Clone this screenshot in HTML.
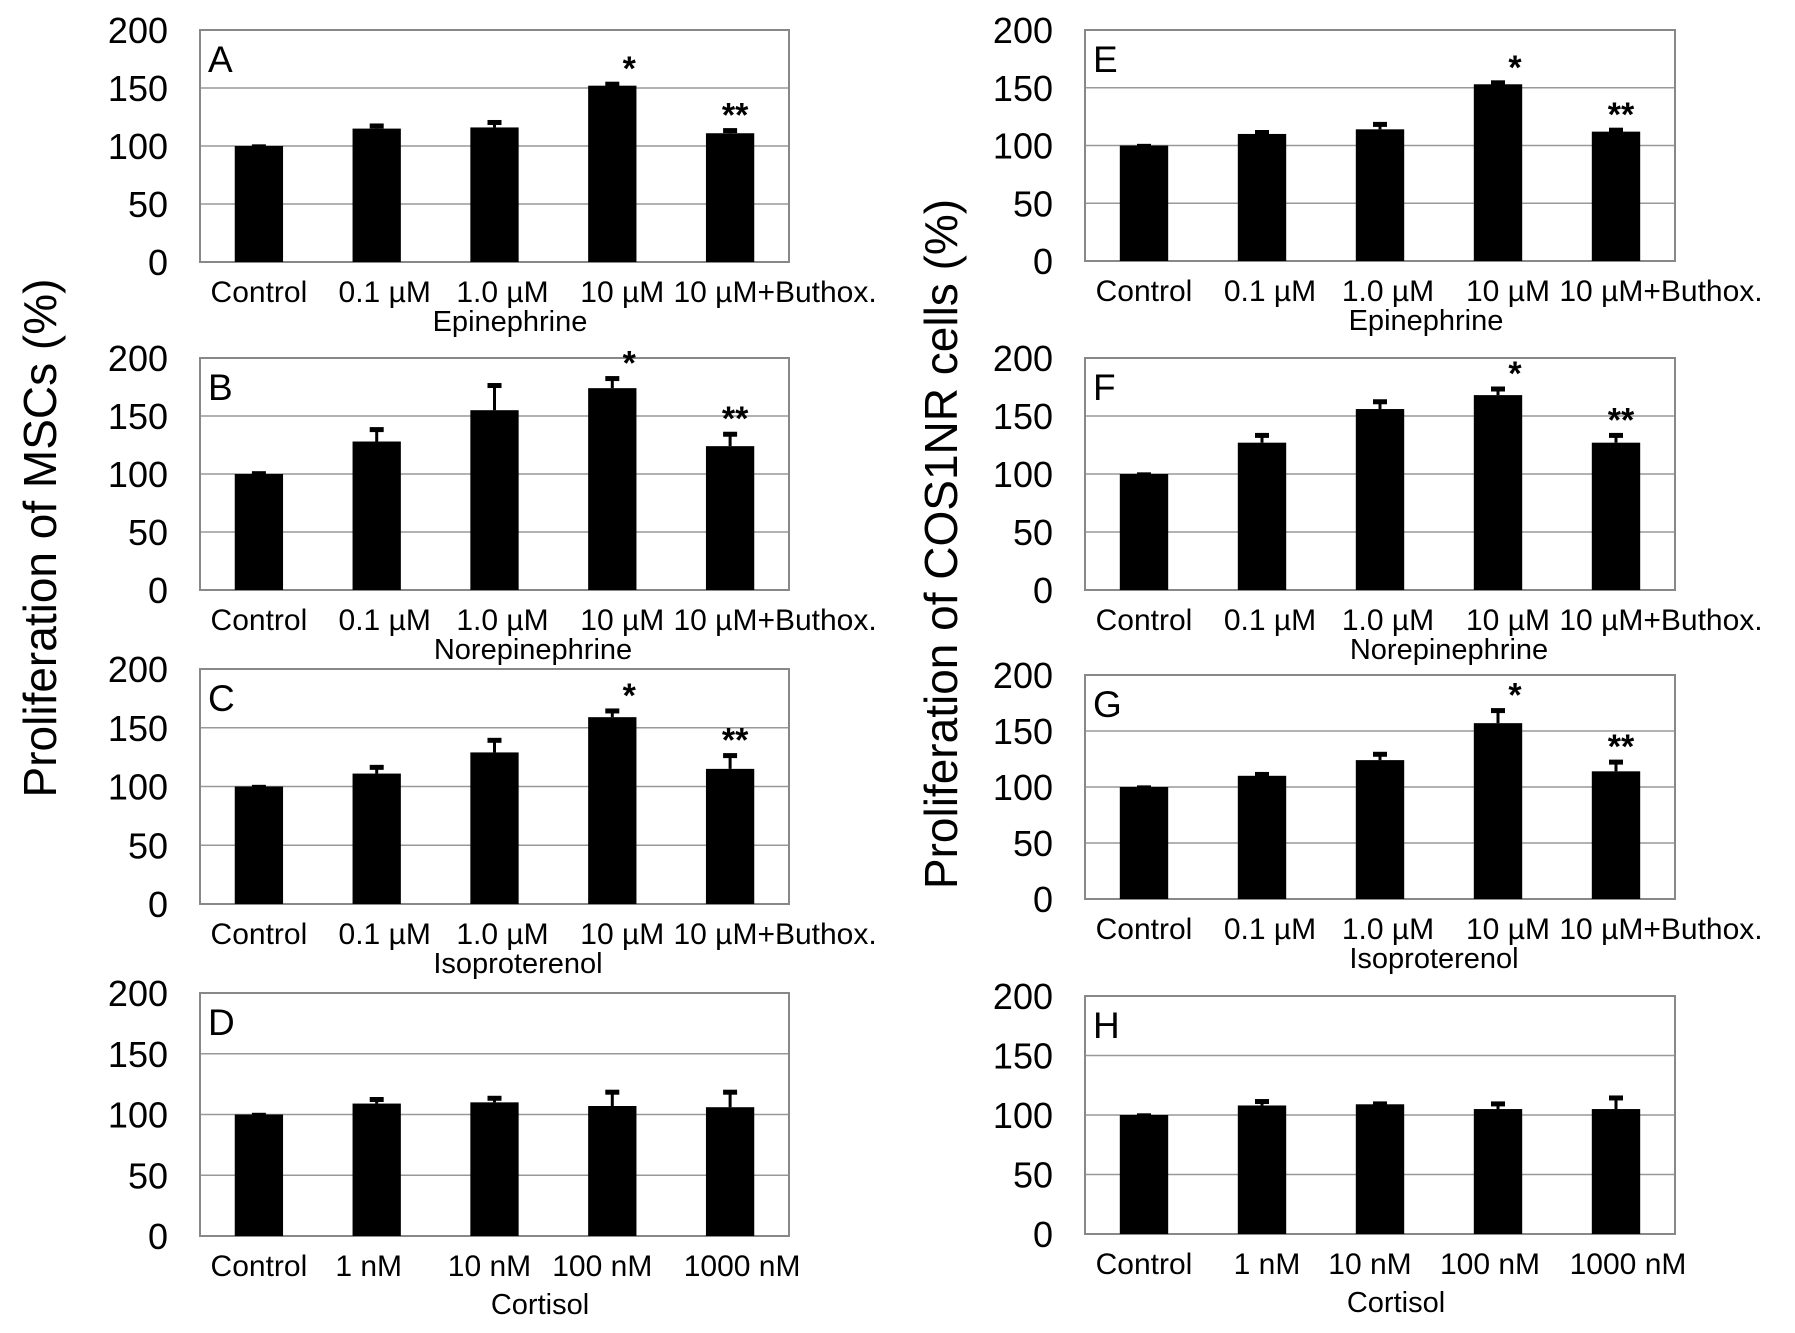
<!DOCTYPE html>
<html><head><meta charset="utf-8"><style>
html,body{margin:0;padding:0;background:#fff;}
svg{display:block;font-family:"Liberation Sans",Arial,sans-serif;}
</style></head><body>
<svg id="fig" width="1795" height="1333" viewBox="0 0 1795 1333" xmlns="http://www.w3.org/2000/svg">
<text transform="translate(56,538) rotate(-90)" text-anchor="middle" font-size="46">Proliferation of MSCs (%)</text>
<text transform="translate(957,544) rotate(-90)" text-anchor="middle" font-size="46">Proliferation of COS1NR cells (%)</text>
</svg>
<script>
const yTicks = [0, 50, 100, 150, 200];
const catsAdr = ["Control", "0.1 µM", "1.0 µM", "10 µM", "10 µM+Buthox."];
const catsCort = ["Control", "1 nM", "10 nM", "100 nM", "1000 nM"];
const valA = [100, 115, 116, 152, 111]; const errA = [1, 4, 6, 3, 4];
const valB = [100, 128, 155, 174, 124]; const errB = [2, 12, 23, 10, 12];
const valC = [100, 111, 129, 159, 115]; const errC = [1, 7, 12, 7, 13];
const valD = [100, 109, 110, 107, 106]; const errD = [1, 5, 5, 13, 14];
const valE = [100, 110, 114, 153, 112]; const errE = [1, 3, 6, 3, 3];
const valF = [100, 127, 156, 168, 127]; const errF = [1, 8, 8, 7, 8];
const valG = [100, 110, 124, 157, 114]; const errG = [1, 3, 7, 13, 10];
const valH = [100, 108, 109, 105, 105]; const errH = [1, 5, 2, 6, 11];
const starsAdr = ["", "", "", "*", "**"];
const starsNone = ["", "", "", "", ""];

const NS = "http://www.w3.org/2000/svg";
const svg = document.getElementById('fig');
function mk(tag, attrs, parent){const e=document.createElementNS(NS,tag);for(const k in attrs)e.setAttribute(k,attrs[k]);(parent||svg).appendChild(e);return e;}

const adrLabelOff = [0, 8, 8, 10, 45];
const cortLabelOff = [0, -8, -5, -10, 12];
const panels = [
 {id:"A",x0:200,x1:789,y0:30,y1:262,v:valA,e:errA,c:catsAdr,s:starsAdr,g:"Epinephrine",gx:510,off:adrLabelOff},
 {id:"B",x0:200,x1:789,y0:358,y1:590,v:valB,e:errB,c:catsAdr,s:starsAdr,g:"Norepinephrine",gx:533,off:adrLabelOff},
 {id:"C",x0:200,x1:789,y0:669,y1:904,v:valC,e:errC,c:catsAdr,s:starsAdr,g:"Isoproterenol",gx:518,off:adrLabelOff},
 {id:"D",x0:200,x1:789,y0:993,y1:1236,v:valD,e:errD,c:catsCort,s:starsNone,g:"Cortisol",gx:540,off:cortLabelOff},
 {id:"E",x0:1085,x1:1675,y0:30,y1:261,v:valE,e:errE,c:catsAdr,s:starsAdr,g:"Epinephrine",gx:1426,off:adrLabelOff},
 {id:"F",x0:1085,x1:1675,y0:358,y1:590,v:valF,e:errF,c:catsAdr,s:starsAdr,g:"Norepinephrine",gx:1449,off:adrLabelOff},
 {id:"G",x0:1085,x1:1675,y0:675,y1:899,v:valG,e:errG,c:catsAdr,s:starsAdr,g:"Isoproterenol",gx:1434,off:adrLabelOff},
 {id:"H",x0:1085,x1:1675,y0:996,y1:1234,v:valH,e:errH,c:catsCort,s:starsNone,g:"Cortisol",gx:1396,off:[0,5,-10,-8,12]}
];

panels.forEach(p=>{
  const g = mk('g',{});
  
  
  const y = v => p.y1 - (v/200)*(p.y1-p.y0);
  const cw = (p.x1-p.x0)/p.v.length;
  const xc = i => p.x0 + cw*(i+0.5);
  const bw = cw*0.41;
  yTicks.forEach(t=>{
    if(t>0 && t<200){const l=mk('line',{x1:p.x0,x2:p.x1,y1:y(t),y2:y(t),stroke:'#999','stroke-width':1.5},g);
      
      }
    const tl=mk('text',{x:p.x0-32,y:y(t)+13,'text-anchor':'end','font-size':36},g);
    
    
    tl.textContent=t;
  });
  const fr=mk('rect',{x:p.x0,y:p.y0,width:p.x1-p.x0,height:p.y1-p.y0,fill:'none',stroke:'#888','stroke-width':2},g);
  
  
  const lt=mk('text',{x:p.x0+8,y:p.y0+42,'font-size':37},g);
  
  
  lt.textContent=p.id;
  p.v.forEach((v,i)=>{
    const top=y(v+p.e[i]);
    const el=mk('line',{x1:xc(i),x2:xc(i),y1:y(v),y2:top,stroke:'#000','stroke-width':3},g);
    
    
    const cap=mk('line',{x1:xc(i)-7,x2:xc(i)+7,y1:top+2,y2:top+2,stroke:'#000','stroke-width':5},g);
    
    
    const b=mk('rect',{x:xc(i)-bw/2,y:y(v),width:bw,height:p.y1-y(v),fill:'#000'},g);
    
    
    if(p.s[i]){
      const st=mk('text',{x:xc(i)+(p.s[i].length>1?5:17),y:top-2,'text-anchor':'middle','font-size':34,'font-weight':'bold'},g);
      
      
      st.textContent=p.s[i];
    }
    const cl=mk('text',{x:xc(i)+p.off[i],y:p.y1+40,'text-anchor':'middle','font-size':30},g);
    
    
    cl.textContent=p.c[i];
  });
  const gl=mk('text',{x:p.gx,y:p.y1+(p.c===catsCort?78:69),'text-anchor':'middle','font-size':29},g);
  
  
  gl.textContent=p.g;
});
</script>
</body></html>
